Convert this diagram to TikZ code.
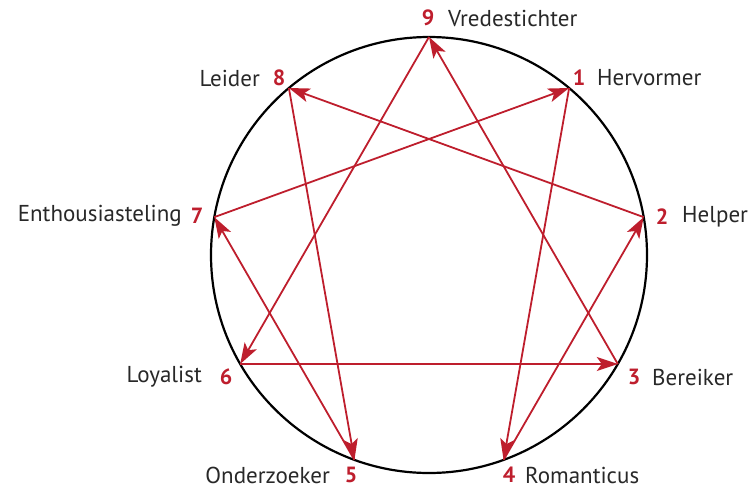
\documentclass[tikz,border=0pt]{standalone}
\usepackage{fontspec}
\setmainfont{PT Sans}
\usetikzlibrary{arrows.meta}
\definecolor{ered}{RGB}{190,30,45}
\definecolor{etext}{RGB}{40,40,40}
\begin{document}
\begin{tikzpicture}[x=1pt,y=-1pt,
  conn/.style={draw=ered, line width=1.8pt, -{Stealth[length=21pt,width=14pt,inset=5pt]}},
  num/.style={text=ered, font=\fontsize{22}{26}\selectfont\bfseries, inner sep=0pt},
  lab/.style={text=etext, font=\fontsize{23}{27}\selectfont, inner sep=0pt}]
\useasboundingbox (0,0) rectangle (751,490);
\coordinate (c) at (429,255);
\draw[line width=2.2pt] (c) circle (218pt);
\foreach \k in {1,...,9}{
  \path (c) ++({90-40*\k}:218pt) coordinate (p\k);
}
% triangle 9 -> 6 -> 3 -> 9
\draw[conn] (p9) -- (p6);
\draw[conn] (p6) -- (p3);
\draw[conn] (p3) -- (p9);
% hexad 1 -> 4 -> 2 -> 8 -> 5 -> 7 -> 1
\draw[conn] (p1) -- (p4);
\draw[conn] (p4) -- (p2);
\draw[conn] (p2) -- (p8);
\draw[conn] (p8) -- (p5);
\draw[conn] (p5) -- (p7);
\draw[conn] (p7) -- (p1);
% numbers
\node[num] (n9) at (428,18) {9};
\node[num] (n1) at (579,78) {1};
\node[num] (n8) at (279,78) {8};
\node[num] (n7) at (197,216) {7};
\node[num] (n2) at (662,217) {2};
\node[num] (n6) at (226,377) {6};
\node[num] (n3) at (634,377) {3};
\node[num] (n5) at (351,475) {5};
\node[num] (n4) at (509,475) {4};
% names
\node[lab, anchor=west] (l9) at (448,18) {Vredestichter};
\node[lab, anchor=west] (l1) at (597,78) {Hervormer};
\node[lab, anchor=east] (l8) at (260,78) {Leider};
\node[lab, anchor=east] (l7) at (182,216) {Enthousiasteling};
\node[lab, anchor=west] (l2) at (682,217) {Helper};
\node[lab, anchor=east] (l6) at (202,377) {Loyalist};
\node[lab, anchor=west] (l3) at (652,377) {Bereiker};
\node[lab, anchor=east] (l5) at (330,475) {Onderzoeker};
\node[lab, anchor=west] (l4) at (525,475) {Romanticus};
\end{tikzpicture}
\end{document}
